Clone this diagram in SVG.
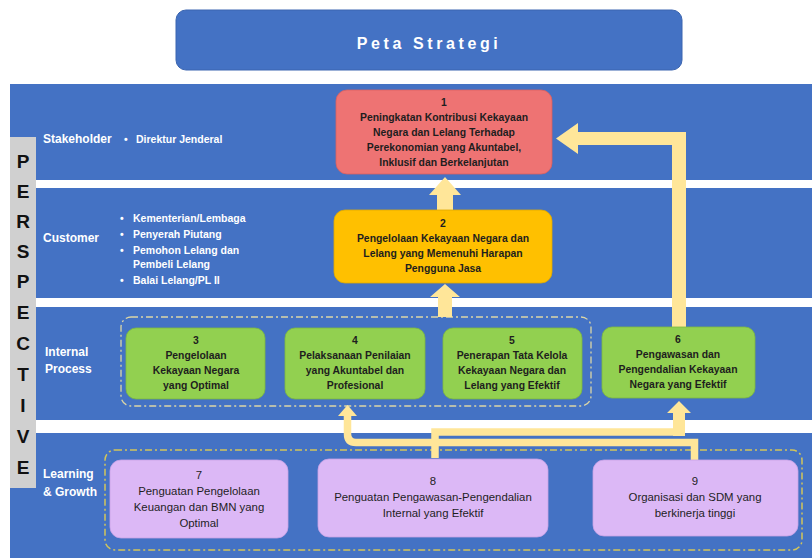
<svg xmlns="http://www.w3.org/2000/svg" width="812" height="558" viewBox="0 0 812 558">
<style>
.band{fill:#4472C4}
.strip{fill:#FFFFFF}
.lbl{font-family:"Liberation Sans",Arial,sans-serif;fill:#FFFFFF;font-weight:bold;font-size:12px}
.blt{font-family:"Liberation Sans",Arial,sans-serif;fill:#FFFFFF;font-weight:bold;font-size:10.5px}
.persp{font-family:"Liberation Sans",Arial,sans-serif;fill:#111111;font-weight:bold;font-size:19px;text-anchor:middle}
.nt{font-family:"Liberation Sans",Arial,sans-serif;fill:#1E1E1E;font-weight:bold;font-size:10.4px;text-anchor:middle}
.nl{font-family:"Liberation Sans",Arial,sans-serif;fill:#1E1E1E;font-size:11.4px;text-anchor:middle}
.red{fill:#EE7373;stroke:#D96060;stroke-width:0.8}
.gold{fill:#FFC000;stroke:#E0A800;stroke-width:0.8}
.green{fill:#92D050;stroke:#7DB93F;stroke-width:0.8}
.lav{fill:#DCB8F6;stroke:#C8A2E6;stroke-width:0.8}
.arr{fill:#FFE699}
.arrl{fill:none;stroke:#FFE699;stroke-width:7.5}
.grp1{fill:none;stroke:#DCD6A6;stroke-width:1.3;stroke-dasharray:7 3 2 3}
.grp2{fill:none;stroke:#D2C55A;stroke-width:1.5;stroke-dasharray:7 3 2 3}
</style>

<g id="title">
  <rect x="176" y="10" width="506" height="60" rx="10" fill="#4472C4" stroke="#3B65B0" stroke-width="1"/>
  <text x="429" y="49" font-family="'Liberation Sans',Arial,sans-serif" font-size="16" font-weight="bold" fill="#FFFFFF" text-anchor="middle" letter-spacing="3.6">Peta Strategi</text>
</g>

<g id="bands">
  <rect class="band" x="10" y="84" width="802" height="474"/>
  <rect class="strip" x="10" y="180" width="802" height="8"/>
  <rect class="strip" x="10" y="298" width="802" height="9"/>
  <rect class="strip" x="10" y="420" width="802" height="13"/>
</g>

<g id="perspective">
  <rect x="10" y="137" width="26" height="351" fill="#D0D0D0"/>
  <text class="persp" x="23" y="168">P</text>
  <text class="persp" x="23" y="198">E</text>
  <text class="persp" x="23" y="228">R</text>
  <text class="persp" x="23" y="258">S</text>
  <text class="persp" x="23" y="288">P</text>
  <text class="persp" x="23" y="319">E</text>
  <text class="persp" x="23" y="350">C</text>
  <text class="persp" x="23" y="381">T</text>
  <text class="persp" x="23" y="412">I</text>
  <text class="persp" x="23" y="443">V</text>
  <text class="persp" x="23" y="474">E</text>
</g>

<g id="row-labels">
  <text class="lbl" x="43" y="143">Stakeholder</text>
  <text class="blt" x="124" y="143">•</text>
  <text class="blt" x="136" y="143">Direktur Jenderal</text>
  <text class="lbl" x="43" y="242">Customer</text>
  <text class="blt" x="120" y="222">•</text>
  <text class="blt" x="133" y="222">Kementerian/Lembaga</text>
  <text class="blt" x="120" y="238">•</text>
  <text class="blt" x="133" y="238">Penyerah Piutang</text>
  <text class="blt" x="120" y="254">•</text>
  <text class="blt" x="133" y="254">Pemohon Lelang dan</text>
  <text class="blt" x="133" y="268">Pembeli Lelang</text>
  <text class="blt" x="120" y="284">•</text>
  <text class="blt" x="133" y="284">Balai Lelang/PL II</text>
  <text class="lbl" x="45" y="356">Internal</text>
  <text class="lbl" x="45" y="373">Process</text>
  <text class="lbl" x="43" y="478">Learning</text>
  <text class="lbl" x="43" y="496">&amp; Growth</text>
</g>

<g id="groups">
  <rect class="grp1" x="121" y="317" width="470" height="89" rx="10"/>
  <rect class="grp2" x="105" y="450" width="697" height="100" rx="10"/>
</g>

<g id="connectors">
  <polygon class="arr" points="437,210 437,195 429,195 445,177 461,195 453,195 453,210"/>
  <polygon class="arr" points="438,317 438,297 430,297 445,284 460,297 452,297 452,317"/>
  <polygon class="arr" points="686,327 686,132 578,132 578,123 556,138.5 578,154 578,145 672,145 672,327"/>
  <path class="arrl" d="M435,458 V432 H679"/>
  <polygon class="arr" points="673,436 673,413 667,413 679,401 691,413 685,413 685,436"/>
  <path class="arrl" d="M694.5,460 V442.5 H356 Q347.5,442.5 347.5,434 V415"/>
  <polygon class="arr" points="338,416 347.5,405 357,416"/>
</g>

<g id="node1">
  <rect class="red" x="336" y="90" width="216" height="84" rx="11"/>
  <text class="nt" x="444" y="105.5">1</text>
  <text class="nt" x="444" y="120.5">Peningkatan Kontribusi Kekayaan</text>
  <text class="nt" x="444" y="135.5">Negara dan Lelang Terhadap</text>
  <text class="nt" x="444" y="150.5">Perekonomian yang Akuntabel,</text>
  <text class="nt" x="444" y="165.5">Inklusif dan Berkelanjutan</text>
</g>

<g id="node2">
  <rect class="gold" x="334" y="210" width="218" height="73" rx="11"/>
  <text class="nt" x="443" y="227">2</text>
  <text class="nt" x="443" y="242">Pengelolaan Kekayaan Negara dan</text>
  <text class="nt" x="443" y="257">Lelang yang Memenuhi Harapan</text>
  <text class="nt" x="443" y="272">Pengguna Jasa</text>
</g>

<g id="node3">
  <rect class="green" x="126" y="328" width="139" height="71" rx="10"/>
  <text class="nt" x="196" y="344">3</text>
  <text class="nt" x="196" y="359">Pengelolaan</text>
  <text class="nt" x="196" y="374">Kekayaan Negara</text>
  <text class="nt" x="196" y="389">yang Optimal</text>
</g>

<g id="node4">
  <rect class="green" x="285" y="328" width="140" height="71" rx="10"/>
  <text class="nt" x="355" y="344">4</text>
  <text class="nt" x="355" y="359">Pelaksanaan Penilaian</text>
  <text class="nt" x="355" y="374">yang Akuntabel dan</text>
  <text class="nt" x="355" y="389">Profesional</text>
</g>

<g id="node5">
  <rect class="green" x="443" y="328" width="139" height="71" rx="10"/>
  <text class="nt" x="512" y="344">5</text>
  <text class="nt" x="512" y="359">Penerapan Tata Kelola</text>
  <text class="nt" x="512" y="374">Kekayaan Negara dan</text>
  <text class="nt" x="512" y="389">Lelang yang Efektif</text>
</g>

<g id="node6">
  <rect class="green" x="602" y="327" width="153" height="71" rx="10"/>
  <text class="nt" x="678" y="343">6</text>
  <text class="nt" x="678" y="358">Pengawasan dan</text>
  <text class="nt" x="678" y="373">Pengendalian Kekayaan</text>
  <text class="nt" x="678" y="388">Negara yang Efektif</text>
</g>

<g id="node7">
  <rect class="lav" x="110" y="460" width="178" height="78" rx="11"/>
  <text class="nl" x="199" y="479">7</text>
  <text class="nl" x="199" y="495">Penguatan Pengelolaan</text>
  <text class="nl" x="199" y="511">Keuangan dan BMN yang</text>
  <text class="nl" x="199" y="527">Optimal</text>
</g>

<g id="node8">
  <rect class="lav" x="318" y="459" width="230" height="78" rx="11"/>
  <text class="nl" x="433" y="485">8</text>
  <text class="nl" x="433" y="501">Penguatan Pengawasan-Pengendalian</text>
  <text class="nl" x="433" y="517">Internal yang Efektif</text>
</g>

<g id="node9">
  <rect class="lav" x="593" y="460" width="205" height="76" rx="11"/>
  <text class="nl" x="695" y="485">9</text>
  <text class="nl" x="695" y="501">Organisasi dan SDM yang</text>
  <text class="nl" x="695" y="517">berkinerja tinggi</text>
</g>
</svg>
